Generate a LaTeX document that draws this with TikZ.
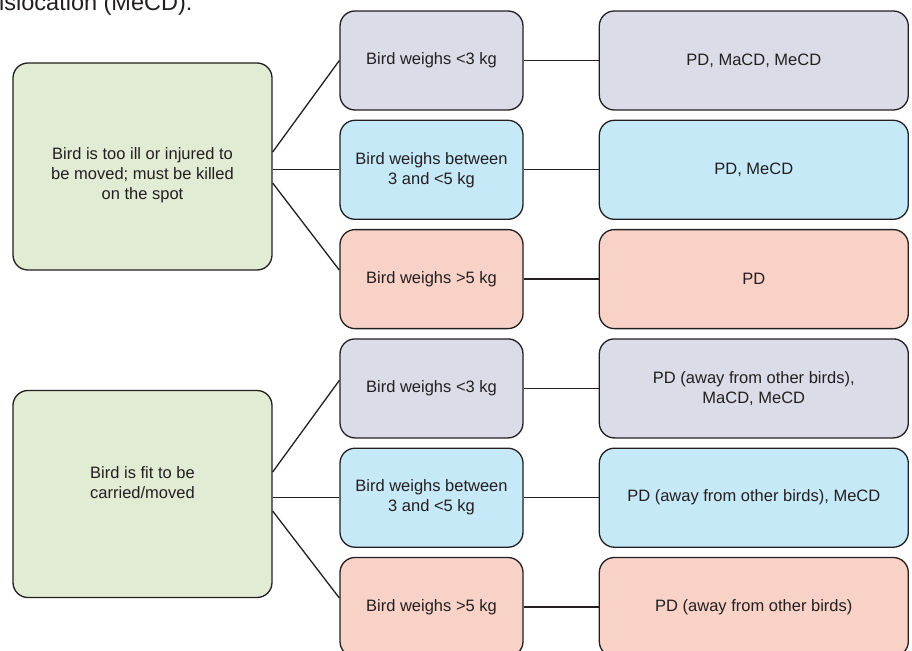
\documentclass[tikz,border=0pt]{standalone}
\usepackage{fontspec}
\setmainfont{Liberation Sans}
\usetikzlibrary{positioning}

\definecolor{ink}{HTML}{231F20}
\definecolor{lilac}{HTML}{DCDCE8}
\definecolor{sky}{HTML}{C6E9F8}
\definecolor{salmon}{HTML}{F8D1C7}
\definecolor{sage}{HTML}{E2ECD4}

\begin{document}
\begin{tikzpicture}[
  x=1pt, y=-1pt,
  font=\fontsize{16.5}{20}\selectfont,
  node distance=9pt and 75pt,
  box/.style={draw=ink, line width=1.3pt, rectangle, rounded corners=15pt,
    text=ink, align=center},
  cond/.style={box, fill=sage, minimum width=259pt, minimum height=207pt},
  condtext/.style={text=ink, align=center},
  weight/.style={box, minimum width=183pt, minimum height=99pt},
  method/.style={box, minimum width=309pt, minimum height=99pt},
  link/.style={draw=ink, line width=1.3pt}
]
\useasboundingbox (0,0) rectangle (912,650);
\clip (0,0) rectangle (912,650);

\node[anchor=base west, text=ink, inner sep=0pt,
  font=\fontsize{23.5}{27}\selectfont] (ttl) at (-1,11) {islocation (MeCD):};

% left column
\node[cond] (l1) at (142.5,166.5) {};
\node[condtext] (l1t) at (142.5,175.5) {Bird is too ill or injured to\\be moved; must be killed\\on the spot};
\node[cond] (l2) at (142.5,494) {};
\node[condtext] (l2t) at (142.5,483) {Bird is fit to be\\carried/moved};

% middle column
\node[weight, fill=lilac] (m1) at (431.5,60.5) {Bird weighs <3 kg};
\node[weight, fill=sky, below=of m1] (m2) {Bird weighs between\\3 and <5 kg};
\node[weight, fill=salmon, below=of m2] (m3) {Bird weighs >5 kg};
\node[weight, fill=lilac, below=of m3] (m4) {Bird weighs <3 kg};
\node[weight, fill=sky, below=of m4] (m5) {Bird weighs between\\3 and <5 kg};
\node[weight, fill=salmon, below=of m5] (m6) {Bird weighs >5 kg};

% right column
\node[method, fill=lilac, right=of m1] (r1) {PD, MaCD, MeCD};
\node[method, fill=sky, right=of m2] (r2) {PD, MeCD};
\node[method, fill=salmon, right=of m3] (r3) {PD};
\node[method, fill=lilac, right=of m4] (r4) {PD (away from other birds),\\MaCD, MeCD};
\node[method, fill=sky, right=of m5] (r5) {PD (away from other birds), MeCD};
\node[method, fill=salmon, right=of m6] (r6) {PD (away from other birds)};

% connectors
\draw[link] ([yshift=14.5pt]l1.east) -- (m1.west);
\draw[link] (l1.east |- m2.west) -- (m2.west);
\draw[link] ([yshift=-16.5pt]l1.east) -- ([yshift=9pt]m3.west);
\draw[link] ([yshift=22pt]l2.east) -- ([yshift=8pt]m4.west);
\draw[link] (l2.east |- m5.west) -- (m5.west);
\draw[link] ([yshift=-17pt]l2.east) -- ([yshift=9pt]m6.west);

\draw[link] (m1) -- (r1);
\draw[link] (m2) -- (r2);
\draw[link] (m3) -- (r3);
\draw[link] (m4) -- (r4);
\draw[link] (m5) -- (r5);
\draw[link] (m6) -- (r6);
\end{tikzpicture}
\end{document}
